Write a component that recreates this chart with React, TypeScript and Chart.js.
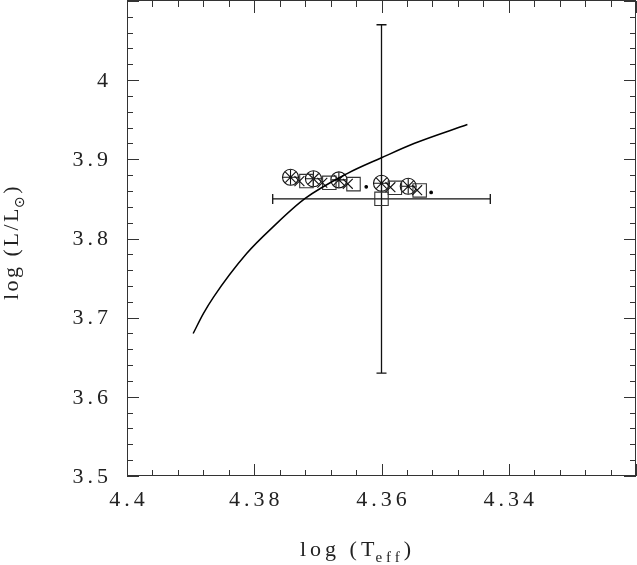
import React, { useEffect, useRef } from "react";
import { Chart, registerables } from "chart.js";

Chart.register(...registerables);

// Evolutionary track (log Teff, log L)
const trackT = [4.3896, 4.3880, 4.3864, 4.3812, 4.3770, 4.3720, 4.3654, 4.3600, 4.3549, 4.3465];
const trackL = [3.680, 3.705, 3.726, 3.781, 3.815, 3.8506, 3.882, 3.902, 3.920, 3.944];

// Circle-with-asterisk models
const circleT = [4.3743, 4.3707, 4.3667, 4.3600, 4.3558];
const circleL = [3.8774, 3.8754, 3.8741, 3.8698, 3.8660];

// Cross models (partly hidden)
const crossT = [4.3729, 4.3693, 4.3653, 4.3586, 4.3544];
const crossL = [3.8724, 3.8704, 3.8691, 3.8648, 3.8610];

// Square models (last one = observed star)
const squareT = [4.3718, 4.3682, 4.3644, 4.3579, 4.3540, 4.3600];
const squareL = [3.8725, 3.8703, 3.8687, 3.8640, 3.8607, 3.8501];

// Dot models
const dotT = [4.3624, 4.3522];
const dotL = [3.8653, 3.8582];

// Observed star with error bars
const obsT = 4.36;
const obsL = 3.85;
const obsErrT = 0.0171;
const obsErrL = 0.22;

// Axes
const xMin = 4.32;
const xMax = 4.4;
const yMin = 3.5;
const yMax = 4.1;
const xTickValues = [4.4, 4.38, 4.36, 4.34];
const xTickLabels = ["4.4", "4.38", "4.36", "4.34"];
const yTickValues = [3.5, 3.6, 3.7, 3.8, 3.9, 4.0];
const yTickLabels = ["3.5", "3.6", "3.7", "3.8", "3.9", "4"];
const xMinorStep = 0.004;
const yMinorStep = 0.02;

const pts = (xs: number[], ys: number[]) => xs.map((x, i) => ({ x, y: ys[i] }));

const INK = "#222";
const FONT = '"Liberation Serif", "Times New Roman", serif';

const decorPlugin = {
  id: "decor",
  beforeDatasetsDraw(chart: any) {
    const { ctx, scales } = chart;
    const xs = scales.x;
    const ys = scales.y;
    const cx = xs.getPixelForValue(obsT);
    const cy = ys.getPixelForValue(obsL);
    const x1 = xs.getPixelForValue(obsT + obsErrT);
    const x2 = xs.getPixelForValue(obsT - obsErrT);
    const y1 = ys.getPixelForValue(obsL + obsErrL);
    const y2 = ys.getPixelForValue(obsL - obsErrL);
    ctx.save();
    ctx.strokeStyle = "#111";
    ctx.lineWidth = 1.3;
    ctx.beginPath();
    ctx.moveTo(x1, cy);
    ctx.lineTo(x2, cy);
    ctx.moveTo(x1, cy - 5);
    ctx.lineTo(x1, cy + 5);
    ctx.moveTo(x2, cy - 5);
    ctx.lineTo(x2, cy + 5);
    ctx.moveTo(cx, y1);
    ctx.lineTo(cx, y2);
    ctx.moveTo(cx - 5, y1);
    ctx.lineTo(cx + 5, y1);
    ctx.moveTo(cx - 5, y2);
    ctx.lineTo(cx + 5, y2);
    ctx.stroke();
    ctx.restore();
  },
  afterDraw(chart: any) {
    const { ctx, scales, chartArea } = chart;
    const xs = scales.x;
    const ys = scales.y;
    const { left, right, top, bottom } = chartArea;
    ctx.save();
    ctx.strokeStyle = "#333";
    ctx.lineWidth = 1;
    ctx.strokeRect(Math.round(left) + 0.5, Math.round(top) - 0.5, Math.round(right - left) - 1, Math.round(bottom - top));
    ctx.beginPath();
    const nX = Math.round((xMax - xMin) / xMinorStep);
    for (let i = 0; i <= nX; i++) {
      const v = xMin + i * xMinorStep;
      const major = xTickValues.some((t) => Math.abs(t - v) < 1e-6) || Math.abs(v - xMin) < 1e-6;
      const len = major ? 12 : 6;
      const px = Math.round(xs.getPixelForValue(v)) + 0.5;
      ctx.moveTo(px, bottom);
      ctx.lineTo(px, bottom - len);
      ctx.moveTo(px, top);
      ctx.lineTo(px, top + len);
    }
    const nY = Math.round((yMax - yMin) / yMinorStep);
    for (let i = 0; i <= nY; i++) {
      const v = yMin + i * yMinorStep;
      const major = Math.abs(Math.round(v * 10) - v * 10) < 1e-6;
      const len = major ? 12 : 6;
      const py = Math.round(ys.getPixelForValue(v)) + 0.5;
      ctx.moveTo(left, py);
      ctx.lineTo(left + len, py);
      ctx.moveTo(right, py);
      ctx.lineTo(right - len, py);
    }
    ctx.stroke();

    // tick labels
    ctx.fillStyle = INK;
    ctx.font = `22px ${FONT}`;
    (ctx as any).letterSpacing = "4px";
    ctx.textAlign = "center";
    ctx.textBaseline = "alphabetic";
    xTickValues.forEach((v, i) => {
      ctx.fillText(xTickLabels[i], xs.getPixelForValue(v) + 2, bottom + 30);
    });
    ctx.textAlign = "right";
    ctx.textBaseline = "middle";
    yTickValues.forEach((v, i) => {
      ctx.fillText(yTickLabels[i], left - 15, ys.getPixelForValue(v) + 1);
    });

    // x title: log (T_eff)
    (ctx as any).letterSpacing = "4px";
    ctx.textAlign = "left";
    ctx.textBaseline = "alphabetic";
    let x = 300;
    const by = 556;
    ctx.font = `22px ${FONT}`;
    ctx.fillText("log (T", x, by);
    x += ctx.measureText("log (T").width - 3;
    ctx.font = `15px ${FONT}`;
    ctx.fillText("eff", x, by + 6);
    x += ctx.measureText("eff").width;
    ctx.font = `22px ${FONT}`;
    ctx.fillText(")", x, by);

    // y title: log (L/L_sun)
    (ctx as any).letterSpacing = "2.5px";
    ctx.save();
    ctx.translate(18, 300);
    ctx.rotate(-Math.PI / 2);
    let t = 0;
    ctx.font = `22px ${FONT}`;
    ctx.fillText("log (L/L", t, 0);
    t += ctx.measureText("log (L/L").width - 2;
    ctx.font = `14px "DejaVu Sans", sans-serif`;
    ctx.fillText("\u2299", t, 6);
    t += ctx.measureText("\u2299").width;
    ctx.font = `22px ${FONT}`;
    ctx.fillText(")", t, 0);
    ctx.restore();

    ctx.restore();
  },
};

export default function App() {
  const ref = useRef<HTMLCanvasElement | null>(null);
  useEffect(() => {
    if (!ref.current) return;
    const common = { borderColor: "#111", backgroundColor: "rgba(0,0,0,0)", borderWidth: 1.1, showLine: false };
    const chart = new Chart(ref.current, {
      type: "scatter",
      data: {
        datasets: [
          {
            label: "track",
            data: pts(trackT, trackL),
            showLine: true,
            borderColor: "#000",
            borderWidth: 1.5,
            pointRadius: 0,
            cubicInterpolationMode: "monotone",
            fill: false,
          } as any,
          { ...common, label: "cross", data: pts(crossT, crossL), pointStyle: "crossRot", pointRadius: 7 },
          { ...common, label: "square", data: pts(squareT, squareL), pointStyle: "rect", pointRadius: 9.5, borderColor: "#333" },
          { ...common, label: "circle", data: pts(circleT, circleL), pointStyle: "circle", pointRadius: 8 },
          { ...common, label: "star", data: pts(circleT, circleL), pointStyle: "star", pointRadius: 7.5 },
          { ...common, label: "dot", data: pts(dotT, dotL), pointStyle: "circle", pointRadius: 1.3, backgroundColor: "#000", borderColor: "#000" },
        ],
      },
      options: {
        responsive: false,
        animation: false,
        events: [],
        layout: { autoPadding: false, padding: { left: 127, right: 1, top: 1, bottom: 89 } },
        plugins: { legend: { display: false }, tooltip: { enabled: false } },
        scales: {
          x: { type: "linear", min: xMin, max: xMax, reverse: true, display: false },
          y: { type: "linear", min: yMin, max: yMax, display: false },
        },
      },
      plugins: [decorPlugin],
    });
    return () => chart.destroy();
  }, []);
  return (
    <div style={{ position: "fixed", left: 0, top: 0, width: 637, height: 565, background: "#fff" }}>
      <canvas ref={ref} width={637} height={565} style={{ display: "block" }} />
    </div>
  );
}
